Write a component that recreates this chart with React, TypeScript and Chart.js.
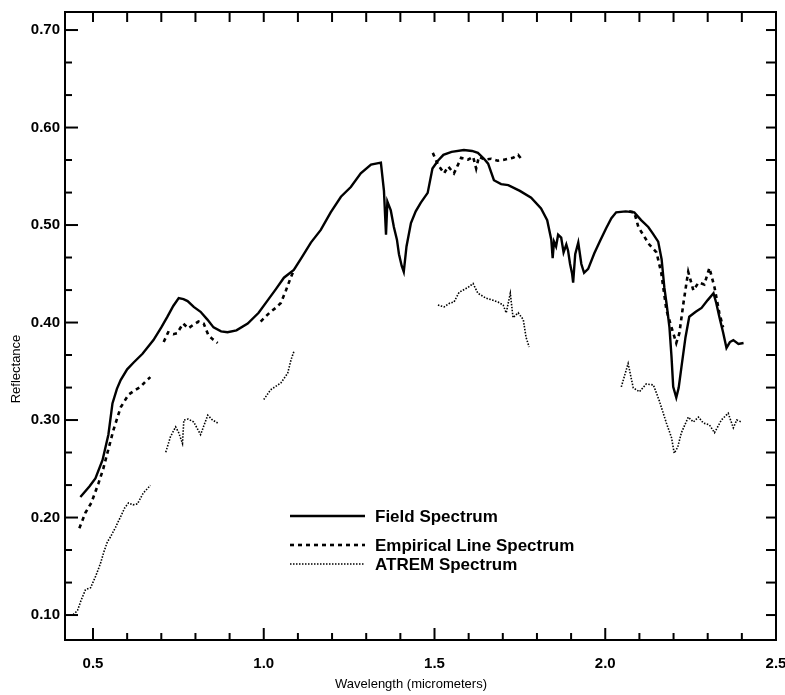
import React, { useEffect, useRef } from "react";
import { Chart, registerables } from "chart.js";

Chart.register(...registerables);

// ---- data ----
const xMajorTicks = [0.5, 1.0, 1.5, 2.0, 2.5];
const xMinorTicks = [0.6, 0.7, 0.8, 0.9, 1.1, 1.2, 1.3, 1.4, 1.6, 1.7, 1.8, 1.9, 2.1, 2.2, 2.3, 2.4];
const yMajorTicks = [0.1, 0.2, 0.3, 0.4, 0.5, 0.6, 0.7];
const yMinorTicks = [0.1333, 0.1667, 0.2333, 0.2667, 0.3333, 0.3667, 0.4333, 0.4667, 0.5333, 0.5667, 0.6333, 0.6667];

const fieldWl = [0.463, 0.49, 0.507, 0.528, 0.545, 0.557, 0.57, 0.581, 0.6, 0.619, 0.645, 0.677, 0.7, 0.718, 0.735, 0.751, 0.765, 0.777, 0.795, 0.815, 0.835, 0.853, 0.875, 0.894, 0.92, 0.953, 0.985, 1.012, 1.035, 1.059, 1.088, 1.11, 1.138, 1.167, 1.196, 1.226, 1.255, 1.284, 1.314, 1.343, 1.352, 1.358, 1.362, 1.372, 1.381, 1.39, 1.396, 1.404, 1.41, 1.418, 1.431, 1.445, 1.46, 1.48, 1.494, 1.51, 1.526, 1.55, 1.586, 1.61, 1.627, 1.645, 1.657, 1.674, 1.695, 1.716, 1.75, 1.783, 1.812, 1.83, 1.842, 1.846, 1.85, 1.856, 1.862, 1.871, 1.878, 1.886, 1.891, 1.897, 1.903, 1.906, 1.912, 1.921, 1.93, 1.938, 1.95, 1.968, 1.985, 2.003, 2.018, 2.032, 2.06, 2.085, 2.105, 2.126, 2.14, 2.155, 2.165, 2.173, 2.18, 2.188, 2.194, 2.199, 2.208, 2.215, 2.223, 2.235, 2.246, 2.265, 2.282, 2.3, 2.317, 2.325, 2.334, 2.345, 2.355, 2.365, 2.375, 2.39, 2.405];
const fieldRef = [0.221, 0.232, 0.24, 0.259, 0.285, 0.317, 0.332, 0.341, 0.352, 0.359, 0.368, 0.382, 0.395, 0.406, 0.417, 0.425, 0.424, 0.422, 0.416, 0.411, 0.403, 0.395, 0.391, 0.39, 0.392, 0.399, 0.41, 0.423, 0.434, 0.446, 0.454, 0.466, 0.482, 0.495, 0.513, 0.529, 0.539, 0.553, 0.562, 0.564, 0.535, 0.49, 0.524, 0.515, 0.498, 0.485, 0.47, 0.458, 0.452, 0.478, 0.502, 0.514, 0.523, 0.533, 0.558, 0.566, 0.572, 0.575, 0.577, 0.576, 0.574, 0.568, 0.563, 0.546, 0.542, 0.541, 0.535, 0.528, 0.517, 0.505, 0.485, 0.466, 0.483, 0.478, 0.49, 0.487, 0.472, 0.48, 0.474, 0.46, 0.45, 0.441, 0.47, 0.482, 0.46, 0.451, 0.455, 0.471, 0.484, 0.497, 0.507, 0.513, 0.514, 0.513, 0.505, 0.498, 0.491, 0.483, 0.465, 0.436, 0.418, 0.395, 0.365, 0.334, 0.323, 0.333, 0.354, 0.385, 0.406, 0.411, 0.415, 0.423, 0.43, 0.42, 0.406, 0.39, 0.374, 0.38, 0.382, 0.378, 0.379];

const empWl = [0.46, 0.478, 0.495, 0.516, 0.53, 0.542, 0.56, 0.581, 0.604, 0.62, 0.639, 0.655, 0.668, 0.69,
  0.707, 0.72, 0.735, 0.746, 0.764, 0.779, 0.795, 0.809, 0.824, 0.838, 0.85, 0.865, 0.93,
  0.991, 1.005, 1.02, 1.035, 1.05, 1.065, 1.08, 1.09, 1.3,
  1.495, 1.51, 1.528, 1.54, 1.557, 1.569, 1.578, 1.598, 1.613, 1.622, 1.63, 1.648, 1.666, 1.685, 1.704, 1.73, 1.745, 1.754, 1.9,
  2.07, 2.085, 2.097, 2.111, 2.129, 2.15, 2.164, 2.179, 2.194, 2.208, 2.217, 2.229, 2.238, 2.243, 2.258, 2.273, 2.29, 2.305, 2.32, 2.334, 2.345];
const empRef = [0.189, 0.205, 0.215, 0.235, 0.25, 0.266, 0.29, 0.313, 0.326, 0.33, 0.334, 0.34, 0.344, null,
  0.38, 0.39, 0.388, 0.389, 0.399, 0.394, 0.398, 0.401, 0.399, 0.387, 0.383, 0.379, null,
  0.401, 0.406, 0.411, 0.415, 0.42, 0.433, 0.447, 0.455, null,
  0.574, 0.562, 0.553, 0.56, 0.553, 0.562, 0.569, 0.567, 0.57, 0.558, 0.57, 0.567, 0.568, 0.566, 0.567, 0.569, 0.572, 0.568, null,
  0.514, 0.513, 0.498, 0.49, 0.48, 0.472, 0.451, 0.413, 0.395, 0.379, 0.389, 0.42, 0.441, 0.452, 0.433, 0.441, 0.439, 0.456, 0.436, 0.41, 0.395];

const atremWl = [0.433, 0.445, 0.455, 0.465, 0.478, 0.493, 0.508, 0.522, 0.532, 0.542, 0.551, 0.566, 0.581, 0.593, 0.604, 0.617, 0.63, 0.647, 0.668, 0.69,
  0.713, 0.727, 0.742, 0.751, 0.762, 0.766, 0.779, 0.795, 0.815, 0.836, 0.85, 0.865, 0.93,
  1.0, 1.02, 1.05, 1.07, 1.08, 1.088, 1.3,
  1.51, 1.528, 1.545, 1.557, 1.572, 1.598, 1.613, 1.627, 1.651, 1.67, 1.686, 1.701, 1.71, 1.722, 1.73, 1.745, 1.76, 1.768, 1.777, 1.9,
  2.047, 2.067, 2.082, 2.1, 2.12, 2.141, 2.158, 2.179, 2.194, 2.202, 2.212, 2.223, 2.243, 2.258, 2.273, 2.287, 2.305, 2.32, 2.34, 2.36, 2.375, 2.385, 2.399];
const atremRef = [0.1, 0.101, 0.105, 0.115, 0.126, 0.128, 0.14, 0.153, 0.165, 0.175, 0.18, 0.19, 0.201, 0.21, 0.215, 0.213, 0.214, 0.225, 0.233, null,
  0.267, 0.283, 0.293, 0.287, 0.276, 0.3, 0.301, 0.298, 0.285, 0.305, 0.3, 0.297, null,
  0.321, 0.331, 0.338, 0.348, 0.362, 0.37, null,
  0.418, 0.416, 0.42, 0.421, 0.431, 0.436, 0.44, 0.43, 0.425, 0.423, 0.421, 0.418, 0.41, 0.43, 0.405, 0.41, 0.403, 0.385, 0.375, null,
  0.334, 0.358, 0.333, 0.329, 0.337, 0.336, 0.32, 0.297, 0.282, 0.266, 0.272, 0.287, 0.303, 0.298, 0.303, 0.297, 0.295, 0.287, 0.3, 0.307, 0.292, 0.3, 0.298];

const seriesNames = ["Field Spectrum", "Empirical Line Spectrum", "ATREM Spectrum"];
const xTitle = "Wavelength (micrometers)";
const yTitle = "Reflectance";

const toPoints = (xs: number[], ys: (number | null)[]) => xs.map((x, i) => ({ x, y: ys[i] }));

const FONT = "'Liberation Sans', Arial, Helvetica, sans-serif";

const styles = [
  { width: 2.4, dash: [] as number[] },
  { width: 2.6, dash: [4, 4] },
  { width: 1.6, dash: [1.5, 1.5] },
];

const framePlugin = {
  id: "frame",
  afterDraw(chart: any) {
    const { ctx, chartArea } = chart;
    const { left, right, top, bottom } = chartArea;
    const xs = chart.scales.x;
    const ys = chart.scales.y;
    ctx.save();
    ctx.strokeStyle = "#000";
    ctx.lineWidth = 2;
    ctx.setLineDash([]);
    ctx.strokeRect(left, top, right - left, bottom - top);
    const tick = (x1: number, y1: number, x2: number, y2: number) => {
      ctx.beginPath();
      ctx.moveTo(x1, y1);
      ctx.lineTo(x2, y2);
      ctx.stroke();
    };
    xMajorTicks.forEach((v) => {
      const px = xs.getPixelForValue(v);
      tick(px, bottom, px, bottom - 12);
      tick(px, top, px, top + 10);
    });
    xMinorTicks.forEach((v) => {
      const px = xs.getPixelForValue(v);
      tick(px, bottom, px, bottom - 7);
      tick(px, top, px, top + 10);
    });
    yMajorTicks.forEach((v) => {
      const py = ys.getPixelForValue(v);
      tick(left, py, left + 13, py);
      tick(right, py, right - 10, py);
    });
    yMinorTicks.forEach((v) => {
      const py = ys.getPixelForValue(v);
      tick(left, py, left + 7, py);
      tick(right, py, right - 10, py);
    });

    // axis titles
    ctx.fillStyle = "#000";
    ctx.font = `13px ${FONT}`;
    ctx.textAlign = "center";
    ctx.textBaseline = "middle";
    ctx.fillText(xTitle, 411, 684);
    ctx.save();
    ctx.translate(16, 369);
    ctx.rotate(-Math.PI / 2);
    ctx.fillText(yTitle, 0, 0);
    ctx.restore();

    // legend
    const legendRows = [516, 545, 564];
    ctx.font = `bold 17px ${FONT}`;
    ctx.textAlign = "left";
    seriesNames.forEach((name, i) => {
      const yy = legendRows[i];
      ctx.lineWidth = styles[i].width;
      ctx.setLineDash(styles[i].dash);
      ctx.beginPath();
      ctx.moveTo(290, yy);
      ctx.lineTo(365, yy);
      ctx.stroke();
      ctx.setLineDash([]);
      ctx.fillText(name, 375, yy + 1);
    });
    ctx.restore();
  },
};

export default function App() {
  const ref = useRef<HTMLCanvasElement | null>(null);
  useEffect(() => {
    if (!ref.current) return;
    const series = [toPoints(fieldWl, fieldRef), toPoints(empWl, empRef), toPoints(atremWl, atremRef)];
    const chart = new Chart(ref.current, {
      type: "line",
      data: {
        datasets: series.map((d, i) => ({
          label: seriesNames[i],
          data: d,
          borderColor: "#000",
          borderWidth: styles[i].width,
          borderDash: styles[i].dash,
          pointRadius: 0,
          tension: 0,
          spanGaps: false,
          fill: false,
        })),
      },
      options: {
        animation: false,
        responsive: true,
        maintainAspectRatio: false,
        layout: { padding: { top: 12, right: 9, left: 0, bottom: 0 } },
        plugins: { legend: { display: false }, tooltip: { enabled: false } },
        scales: {
          x: {
            type: "linear",
            min: 0.418,
            max: 2.5,
            grid: { display: false, drawTicks: false },
            border: { display: false },
            afterBuildTicks: (s: any) => {
              s.ticks = xMajorTicks.map((v) => ({ value: v }));
            },
            afterFit: (s: any) => {
              s.height = 55;
              s.paddingLeft = 0;
              s.paddingRight = 0;
            },
            ticks: {
              autoSkip: false,
              maxRotation: 0,
              padding: 15,
              color: "#000",
              font: { family: FONT, size: 15, weight: "bold" },
              callback: (v: any) => Number(v).toFixed(1),
            },
          },
          y: {
            type: "linear",
            min: 0.0744,
            max: 0.7185,
            grid: { display: false, drawTicks: false },
            border: { display: false },
            afterBuildTicks: (s: any) => {
              s.ticks = yMajorTicks.map((v) => ({ value: v }));
            },
            afterFit: (s: any) => {
              s.width = 65;
              s.paddingTop = 0;
              s.paddingBottom = 0;
            },
            ticks: {
              autoSkip: false,
              padding: 5,
              color: "#000",
              font: { family: FONT, size: 15, weight: "bold" },
              callback: (v: any) => Number(v).toFixed(2),
            },
          },
        },
      },
      plugins: [framePlugin],
    } as any);
    return () => chart.destroy();
  }, []);
  return (
    <div style={{ position: "fixed", left: 0, top: 0, width: 785, height: 695, background: "#fff" }}>
      <canvas ref={ref} />
    </div>
  );
}
